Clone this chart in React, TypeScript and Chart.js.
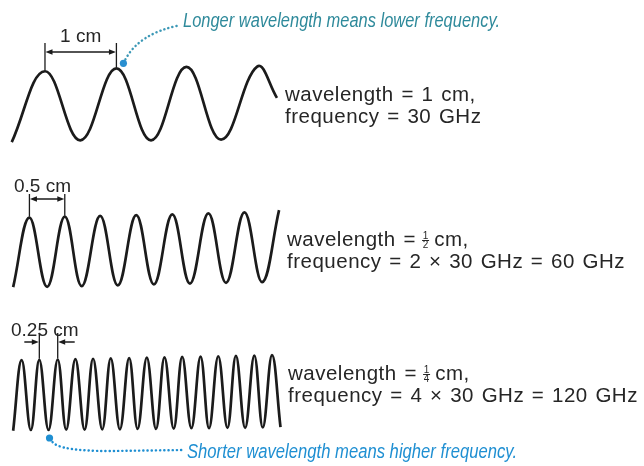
import React, { useEffect, useRef } from "react";
import { Chart, registerables } from "chart.js";

Chart.register(...registerables);

// x: distance along the wave in centimetres; y: displacement (one amplitude ≈ 1)
const X_MIN = -0.156;
const X_MAX = 8.95;
const Y_MIN = -6.5;
const Y_MAX = 6.45;

// vertical baseline of each of the three rows
const ROW_BASE = [3.55, -0.45, -4.4];

// Wave 1 — wavelength 1 cm (crests and troughs)
const WAVE1_X = [0.01, 0.48, 0.98, 1.49, 1.98, 2.48, 2.97, 3.48, 3.76];
const WAVE1_Y = [-1.05, 0.92, -1.0, 1.0, -1.0, 1.04, -0.98, 1.05, 0.18];

// Wave 2 — wavelength 0.5 cm
const WAVE2_X = [0.03, 0.26, 0.51, 0.76, 1.0, 1.26, 1.51, 1.77, 2.02, 2.28, 2.53, 2.79, 3.04, 3.3, 3.55, 3.79];
const WAVE2_Y = [-1.08, 0.85, -1.07, 0.88, -1.05, 0.9, -1.03, 0.92, -1.0, 0.94, -0.98, 0.97, -0.96, 1.0, -0.94, 1.06];

// Wave 3 — wavelength 0.25 cm
const WAVE3_X = [
  0.03, 0.15, 0.28, 0.4, 0.53, 0.66, 0.78, 0.91, 1.04, 1.16, 1.29, 1.41, 1.54, 1.67, 1.79, 1.92,
  2.05, 2.17, 2.3, 2.42, 2.55, 2.68, 2.8, 2.93, 3.06, 3.18, 3.31, 3.44, 3.56, 3.69, 3.81,
];
const WAVE3_Y = [
  -1.12, 0.84, -1.1, 0.85, -1.1, 0.86, -1.09, 0.87, -1.09, 0.88, -1.08, 0.89, -1.08, 0.9, -1.07, 0.91,
  -1.07, 0.92, -1.06, 0.93, -1.05, 0.94, -1.05, 0.95, -1.04, 0.96, -1.04, 0.97, -1.03, 0.98, -1.02,
];

const SPAN_LABELS = ["1 cm", "0.5 cm", "0.25 cm"];
const ROW1_TEXT = ["wavelength = 1 cm,", "frequency = 30 GHz"];
const ROW2_TEXT = ["wavelength = ", "1", "2", " cm,", "frequency = 2 × 30 GHz = 60 GHz"];
const ROW3_TEXT = ["wavelength = ", "1", "4", " cm,", "frequency = 4 × 30 GHz = 120 GHz"];
const NOTE_TOP = "Longer wavelength means lower frequency.";
const NOTE_BOTTOM = "Shorter wavelength means higher frequency.";

const INK = "#1b1b1b";
const TEXT = "#262626";
const TEAL = "#2f8a9b";
const TEAL_DOTS = "#3c98b6";
const BLUE = "#1f8fd2";
const SANS = "'Liberation Sans', Arial, Helvetica, sans-serif";

function toPoints(xs: number[], ys: number[], base: number) {
  return xs.map((x, i) => ({ x, y: ys[i] + base }));
}

function arrowHead(ctx: CanvasRenderingContext2D, x: number, y: number, dir: number) {
  ctx.beginPath();
  ctx.moveTo(x, y);
  ctx.lineTo(x - dir * 7, y - 2.8);
  ctx.lineTo(x - dir * 7, y + 2.8);
  ctx.closePath();
  ctx.fill();
}

function fracLine(
  ctx: CanvasRenderingContext2D,
  x: number,
  y: number,
  before: string,
  num: string,
  den: string,
  after: string
) {
  ctx.textAlign = "left";
  ctx.fillText(before, x, y);
  const w = ctx.measureText(before).width;
  const fx = x + w - 2;
  ctx.save();
  ctx.font = "10px " + SANS;
  (ctx as any).letterSpacing = "0px";
  (ctx as any).wordSpacing = "0px";
  ctx.textAlign = "center";
  ctx.fillText(num, fx + 4, y - 7);
  ctx.fillText(den, fx + 4, y + 2);
  ctx.fillRect(fx + 0.5, y - 6, 7, 1);
  ctx.restore();
  ctx.fillText(after, fx + 5, y);
}

const annotations = {
  id: "annotations",
  afterDatasetsDraw(chart: any) {
    const ctx: CanvasRenderingContext2D = chart.ctx;
    const X = (v: number) => chart.scales.x.getPixelForValue(v);
    const Y = (v: number) => chart.scales.y.getPixelForValue(v);
    ctx.save();

    ctx.strokeStyle = INK;
    ctx.fillStyle = INK;
    ctx.lineWidth = 1.3;

    // --- span 1: 1 cm
    {
      const xa = X(WAVE1_X[1]);
      const xb = X(WAVE1_X[3]);
      const ya = Y(WAVE1_Y[1] + ROW_BASE[0]);
      const yb = Y(WAVE1_Y[3] + ROW_BASE[0]);
      ctx.beginPath();
      ctx.moveTo(xa, ya - 1);
      ctx.lineTo(xa, 43);
      ctx.moveTo(xb, yb - 1);
      ctx.lineTo(xb, 43);
      ctx.moveTo(xa + 5, 52);
      ctx.lineTo(xb - 5, 52);
      ctx.stroke();
      arrowHead(ctx, xa + 0.5, 52, -1);
      arrowHead(ctx, xb - 0.5, 52, 1);
      ctx.fillStyle = TEXT;
      ctx.font = "19px " + SANS;
      ctx.textAlign = "center";
      ctx.textBaseline = "alphabetic";
      ctx.fillText(SPAN_LABELS[0], (xa + xb) / 2, 42);
    }

    // --- span 2: 0.5 cm
    {
      ctx.fillStyle = INK;
      const xa = X(WAVE2_X[1]);
      const xb = X(WAVE2_X[3]);
      const ya = Y(WAVE2_Y[1] + ROW_BASE[1]);
      const yb = Y(WAVE2_Y[3] + ROW_BASE[1]);
      ctx.beginPath();
      ctx.moveTo(xa, ya - 1);
      ctx.lineTo(xa, 194);
      ctx.moveTo(xb, yb - 1);
      ctx.lineTo(xb, 194);
      ctx.moveTo(xa + 5, 199);
      ctx.lineTo(xb - 5, 199);
      ctx.stroke();
      arrowHead(ctx, xa + 0.5, 199, -1);
      arrowHead(ctx, xb - 0.5, 199, 1);
      ctx.fillStyle = TEXT;
      ctx.font = "19px " + SANS;
      ctx.textAlign = "left";
      ctx.fillText(SPAN_LABELS[1], 14, 192);
    }

    // --- span 3: 0.25 cm
    {
      ctx.fillStyle = INK;
      const xa = X(WAVE3_X[3]);
      const xb = X(WAVE3_X[5]);
      const ya = Y(WAVE3_Y[3] + ROW_BASE[2]);
      const yb = Y(WAVE3_Y[5] + ROW_BASE[2]);
      ctx.beginPath();
      ctx.moveTo(xa, ya - 1);
      ctx.lineTo(xa, 333);
      ctx.moveTo(xb, yb - 1);
      ctx.lineTo(xb, 333);
      ctx.moveTo(xa - 15, 342);
      ctx.lineTo(xa - 5, 342);
      ctx.moveTo(xb + 17, 342);
      ctx.lineTo(xb + 5, 342);
      ctx.stroke();
      arrowHead(ctx, xa - 0.5, 342, 1);
      arrowHead(ctx, xb + 0.5, 342, -1);
      ctx.fillStyle = TEXT;
      ctx.font = "19px " + SANS;
      ctx.textAlign = "left";
      ctx.fillText(SPAN_LABELS[2], 11, 336);
    }

    // --- right-hand descriptions
    ctx.fillStyle = TEXT;
    ctx.font = "20.5px " + SANS;
    (ctx as any).letterSpacing = "0.5px";
    (ctx as any).wordSpacing = "1.5px";
    ctx.textAlign = "left";
    ctx.fillText(ROW1_TEXT[0], 285, 101);
    ctx.fillText(ROW1_TEXT[1], 285, 123);
    fracLine(ctx, 287, 246, ROW2_TEXT[0], ROW2_TEXT[1], ROW2_TEXT[2], ROW2_TEXT[3]);
    ctx.fillText(ROW2_TEXT[4], 287, 268);
    fracLine(ctx, 288, 380, ROW3_TEXT[0], ROW3_TEXT[1], ROW3_TEXT[2], ROW3_TEXT[3]);
    ctx.fillText(ROW3_TEXT[4], 288, 402);
    (ctx as any).letterSpacing = "0px";
    (ctx as any).wordSpacing = "0px";

    // --- top callout (points at second crest of wave 1)
    {
      const px = X(WAVE1_X[3]) + 6;
      const py = Y(WAVE1_Y[3] + ROW_BASE[0]) - 5;
      ctx.strokeStyle = TEAL_DOTS;
      ctx.lineWidth = 2.4;
      ctx.lineCap = "round";
      ctx.setLineDash([0.2, 4]);
      ctx.beginPath();
      ctx.moveTo(px + 3, py - 4);
      ctx.quadraticCurveTo(px + 17, py - 30, px + 57, py - 38);
      ctx.stroke();
      ctx.setLineDash([]);
      ctx.fillStyle = "#2a8fd0";
      ctx.beginPath();
      ctx.arc(px + 1, py, 3.6, 0, Math.PI * 2);
      ctx.fill();
      ctx.fillStyle = TEAL;
      ctx.font = "italic 20px " + SANS;
      ctx.fillText(NOTE_TOP, 183, 27, 317);
    }

    // --- bottom callout (points at a trough of wave 3)
    {
      const px = X(WAVE3_X[4]) + 1;
      const py = Y(WAVE3_Y[4] + ROW_BASE[2]) + 8;
      ctx.strokeStyle = BLUE;
      ctx.lineWidth = 2.4;
      ctx.lineCap = "round";
      ctx.setLineDash([0.2, 4]);
      ctx.beginPath();
      ctx.moveTo(px + 3, py + 4);
      ctx.quadraticCurveTo(px + 10, py + 13, px + 60, py + 13);
      ctx.lineTo(183, py + 12);
      ctx.stroke();
      ctx.setLineDash([]);
      ctx.fillStyle = BLUE;
      ctx.beginPath();
      ctx.arc(px, py, 3.6, 0, Math.PI * 2);
      ctx.fill();
      ctx.font = "italic 20px " + SANS;
      ctx.fillText(NOTE_BOTTOM, 187, 458, 330);
    }

    ctx.restore();
  },
};

export default function App() {
  const ref = useRef<HTMLCanvasElement | null>(null);

  useEffect(() => {
    if (!ref.current) return;
    const waveStyle = {
      borderColor: INK,
      borderWidth: 2.7,
      pointRadius: 0,
      fill: false,
      tension: 0.4,
    };
    const chart = new Chart(ref.current, {
      type: "line",
      data: {
        datasets: [
          { label: "λ = 1 cm", data: toPoints(WAVE1_X, WAVE1_Y, ROW_BASE[0]), ...waveStyle },
          { label: "λ = 0.5 cm", data: toPoints(WAVE2_X, WAVE2_Y, ROW_BASE[1]), ...waveStyle },
          { label: "λ = 0.25 cm", data: toPoints(WAVE3_X, WAVE3_Y, ROW_BASE[2]), ...waveStyle },
        ],
      },
      options: {
        animation: false,
        responsive: false,
        maintainAspectRatio: false,
        layout: { padding: 0 },
        scales: {
          x: { type: "linear", min: X_MIN, max: X_MAX, display: false },
          y: { type: "linear", min: Y_MIN, max: Y_MAX, display: false },
        },
        plugins: {
          legend: { display: false },
          tooltip: { enabled: false },
        },
      },
      plugins: [annotations],
    } as any);
    return () => chart.destroy();
  }, []);

  return (
    <div style={{ position: "absolute", left: 0, top: 0, width: 644, height: 466, background: "#fff" }}>
      <canvas ref={ref} width={644} height={466} />
    </div>
  );
}
